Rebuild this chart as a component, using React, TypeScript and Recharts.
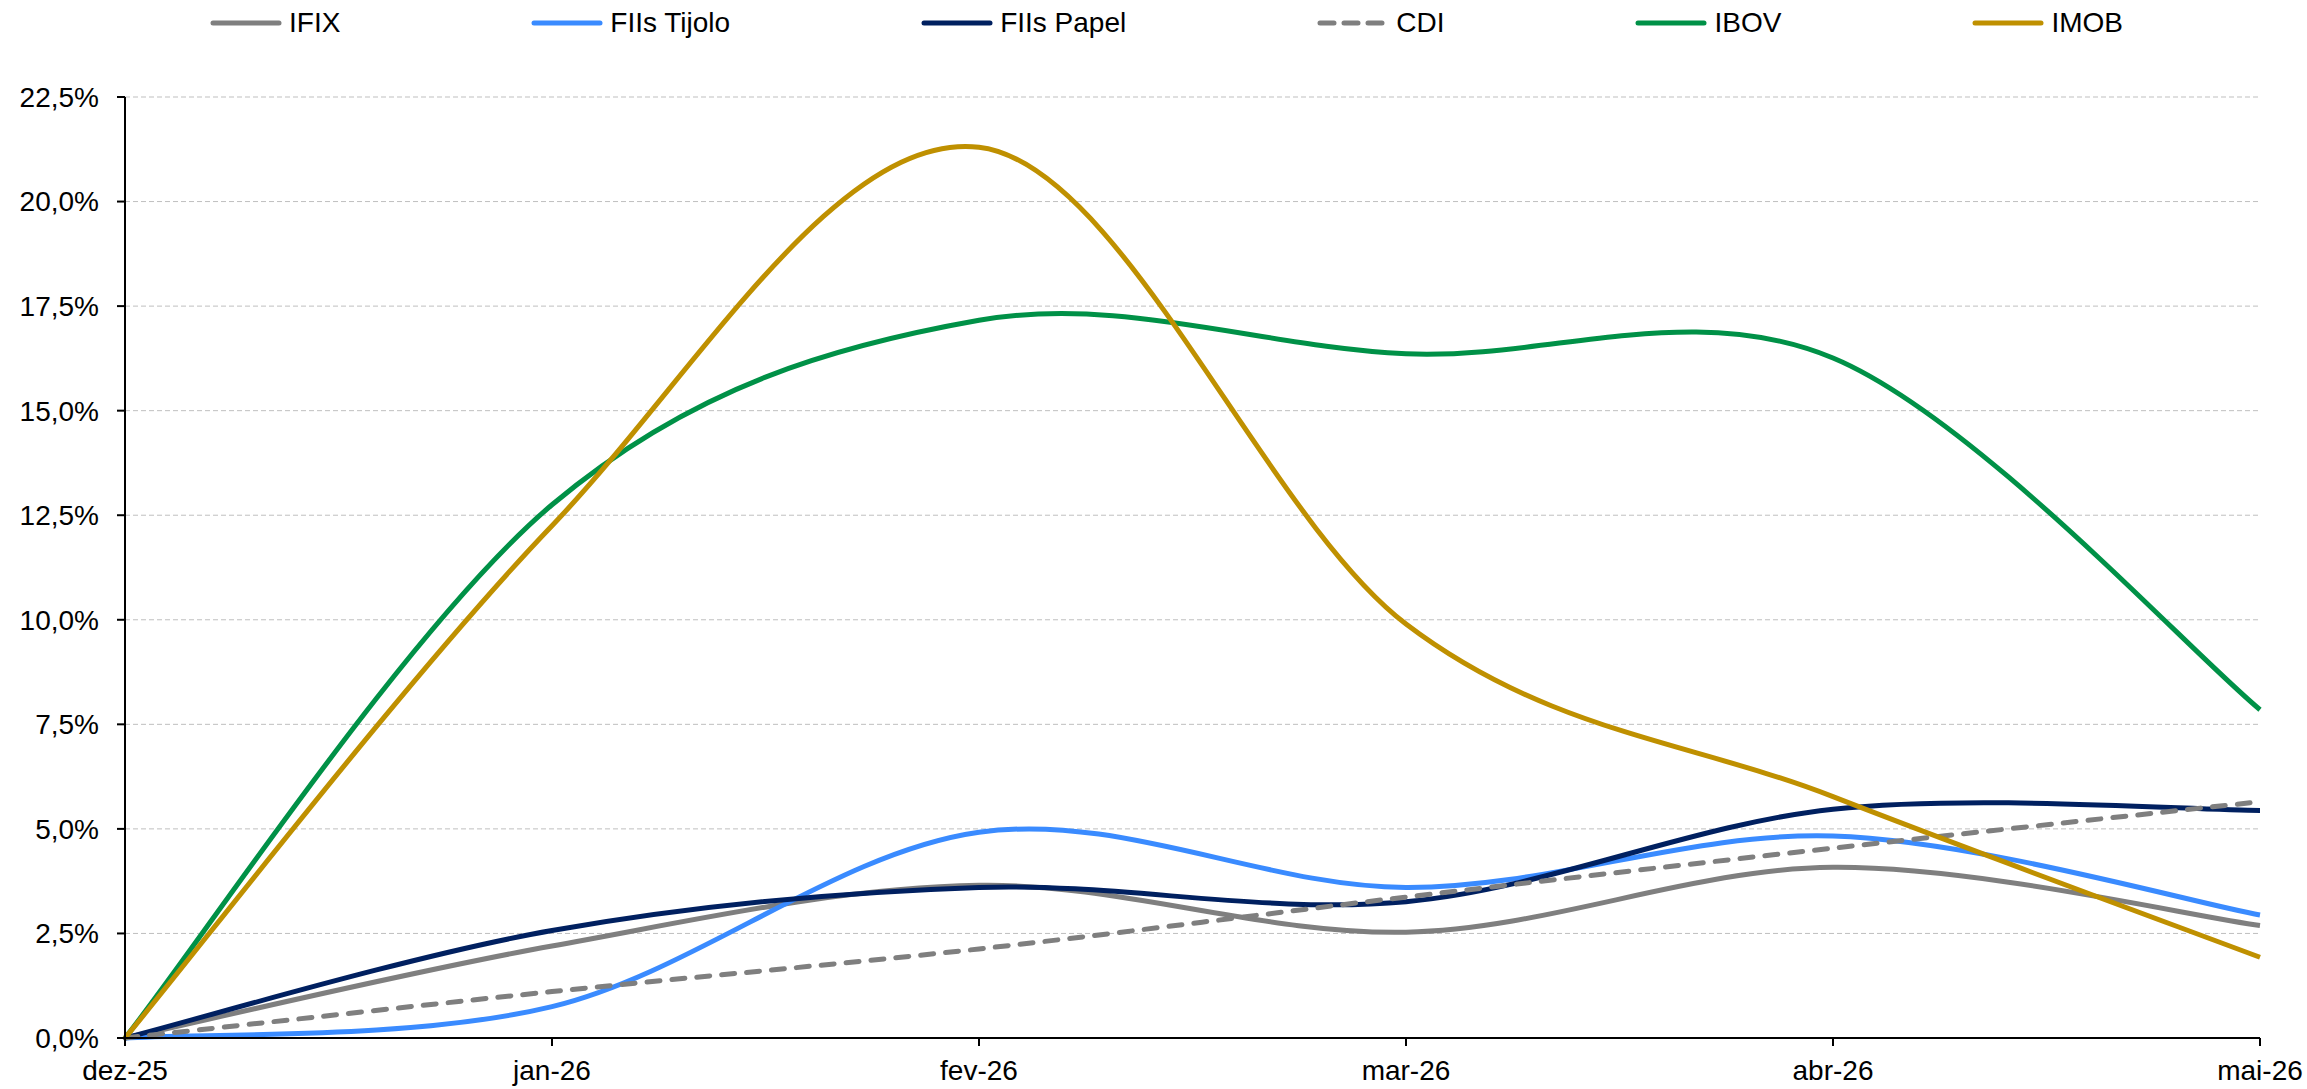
import React from "react";
import { LineChart, Line, XAxis, YAxis, CartesianGrid } from "recharts";

// meses e retornos acumulados (%)
const months = ["dez-25", "jan-26", "fev-26", "mar-26", "abr-26", "mai-26"];
const ifix = [0, 2.2, 3.65, 2.53, 4.08, 2.69];
const fiisTijolo = [0, 0.75, 4.92, 3.6, 4.83, 2.94];
const fiisPapel = [0, 2.57, 3.6, 3.26, 5.47, 5.44];
const cdi = [0, 1.11, 2.13, 3.37, 4.54, 5.65];
const ibov = [0, 12.75, 17.16, 16.36, 16.26, 7.85];
const imob = [0, 12.25, 21.3, 9.9, 5.77, 1.93];
const yTicks = [0, 2.5, 5, 7.5, 10, 12.5, 15, 17.5, 20, 22.5];

const series = [
  { key: "ifix", name: "IFIX", color: "#7f7f7f", values: ifix },
  { key: "tijolo", name: "FIIs Tijolo", color: "#3a8bff", values: fiisTijolo },
  { key: "papel", name: "FIIs Papel", color: "#002060", values: fiisPapel },
  { key: "cdi", name: "CDI", color: "#7f7f7f", values: cdi, dash: true },
  { key: "ibov", name: "IBOV", color: "#009147", values: ibov },
  { key: "imob", name: "IMOB", color: "#bf9000", values: imob },
];

const rows = months.map((m, i) => {
  const r: any = { month: m };
  series.forEach(s => (r[s.key] = s.values[i]));
  return r;
});

const FONT = "'Liberation Sans', Arial, sans-serif";

// suavização tipo Excel (spline cardinal, tensão 0)
function excelSmooth(context: any) {
  let pts: number[][] = [];
  return {
    areaStart() {},
    areaEnd() {},
    lineStart() { pts = []; },
    point(x: number, y: number) { pts.push([+x, +y]); },
    lineEnd() {
      if (!pts.length) return;
      context.moveTo(pts[0][0], pts[0][1]);
      for (let i = 0; i < pts.length - 1; i++) {
        const p0 = pts[i - 1] || pts[i];
        const p1 = pts[i];
        const p2 = pts[i + 1];
        const p3 = pts[i + 2] || p2;
        context.bezierCurveTo(
          p1[0] + (p2[0] - p0[0]) / 6, p1[1] + (p2[1] - p0[1]) / 6,
          p2[0] - (p3[0] - p1[0]) / 6, p2[1] - (p3[1] - p1[1]) / 6,
          p2[0], p2[1]
        );
      }
    },
  };
}

const pct = (v: number) => v.toFixed(1).replace(".", ",") + "%";

function LegendRow() {
  return (
    <div style={{ position: "absolute", left: 210, top: 6, display: "flex", gap: 191, alignItems: "center", fontFamily: FONT, fontSize: 28, color: "#000", height: 34 }}>
      {series.map(s => (
        <div key={s.key} style={{ display: "flex", alignItems: "center" }}>
          <svg width={72} height={10} style={{ marginRight: 7 }}>
            <line x1={3} y1={5} x2={69} y2={5} stroke={s.color} strokeWidth={5} strokeLinecap="round" strokeDasharray={s.dash ? "14 10" : undefined} />
          </svg>
          <span>{s.name}</span>
        </div>
      ))}
    </div>
  );
}

export default function App() {
  return (
    <div style={{ position: "absolute", left: 0, top: 0, width: 2307, height: 1089, background: "#fff" }}>
      <LegendRow />
      <LineChart width={2307} height={1089} data={rows} margin={{ top: 97, right: 47, bottom: 0, left: 0 }}>
        <CartesianGrid vertical={false} stroke="#bfbfbf" strokeDasharray="5 3" strokeWidth={1} />
        <XAxis
          dataKey="month"
          height={51}
          padding={{ left: 0, right: 0 }}
          axisLine={{ stroke: "#000", strokeWidth: 2 }}
          tickLine={{ stroke: "#000", strokeWidth: 2 }}
          tickSize={8}
          tickMargin={14}
          interval={0}
          tick={{ fill: "#000", fontSize: 28, fontFamily: FONT }}
        />
        <YAxis
          width={125}
          domain={[0, 22.5]}
          ticks={yTicks}
          tickFormatter={pct}
          axisLine={{ stroke: "#000", strokeWidth: 2 }}
          tickLine={{ stroke: "#000", strokeWidth: 2 }}
          tickSize={8}
          tickMargin={18}
          tick={{ fill: "#000", fontSize: 28, fontFamily: FONT }}
        />
        {series.map(s => (
          <Line
            key={s.key}
            dataKey={s.key}
            name={s.name}
            type={excelSmooth as any}
            stroke={s.color}
            strokeWidth={5}
            strokeDasharray={s.dash ? "13 12" : undefined}
            strokeLinecap={s.dash ? "round" : "butt"}
            dot={false}
            activeDot={false}
            isAnimationActive={false}
          />
        ))}
      </LineChart>
    </div>
  );
}
